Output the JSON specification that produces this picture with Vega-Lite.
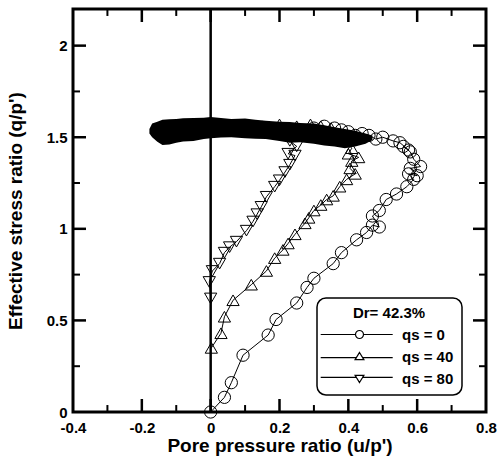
{
  "$schema": "https://vega.github.io/schema/vega-lite/v6.json",
  "width": 413,
  "height": 403,
  "autosize": {"type": "none"},
  "padding": {"left": 73, "top": 9, "right": 13, "bottom": 51},
  "background": "white",
  "config": {
    "font": "Liberation Sans",
    "view": {"stroke": "black", "strokeWidth": 3},
    "axis": {
      "grid": false, "domain": false, "ticks": false, "labelColor": "black", "titleColor": "black",
      "labelFont": "Liberation Sans", "labelFontWeight": "bold", "labelFontSize": 15,
      "titleFont": "Liberation Sans", "titleFontWeight": "bold", "titleFontSize": 19
    },
    "legend": {"strokeWidth": 1.5}
  },
  "datasets": {
    "xmajor": [{"v": -0.2}, {"v": 0}, {"v": 0.2}, {"v": 0.4}, {"v": 0.6}],
    "xminor": [{"v": -0.3}, {"v": -0.1}, {"v": 0.1}, {"v": 0.3}, {"v": 0.5}, {"v": 0.7}],
    "ymajor": [{"v": 0.5}, {"v": 1}, {"v": 1.5}, {"v": 2}],
    "yminor": [{"v": 0.25}, {"v": 0.75}, {"v": 1.25}, {"v": 1.75}],
    "band": [
      {"u": -0.178, "top": 1.545, "bottom": 1.52},
      {"u": -0.17, "top": 1.575, "bottom": 1.5},
      {"u": -0.155, "top": 1.585, "bottom": 1.475},
      {"u": -0.14, "top": 1.595, "bottom": 1.458},
      {"u": -0.12, "top": 1.598, "bottom": 1.46},
      {"u": -0.1, "top": 1.6, "bottom": 1.47},
      {"u": -0.08, "top": 1.603, "bottom": 1.476},
      {"u": -0.05, "top": 1.605, "bottom": 1.48},
      {"u": -0.02, "top": 1.607, "bottom": 1.49},
      {"u": 0.0, "top": 1.61, "bottom": 1.495},
      {"u": 0.03, "top": 1.605, "bottom": 1.498},
      {"u": 0.06, "top": 1.6, "bottom": 1.5},
      {"u": 0.1, "top": 1.602, "bottom": 1.495},
      {"u": 0.13, "top": 1.595, "bottom": 1.492},
      {"u": 0.16, "top": 1.59, "bottom": 1.49},
      {"u": 0.2, "top": 1.585, "bottom": 1.48},
      {"u": 0.23, "top": 1.583, "bottom": 1.47},
      {"u": 0.26, "top": 1.578, "bottom": 1.472},
      {"u": 0.3, "top": 1.575, "bottom": 1.465},
      {"u": 0.33, "top": 1.565, "bottom": 1.455},
      {"u": 0.36, "top": 1.555, "bottom": 1.45},
      {"u": 0.39, "top": 1.545, "bottom": 1.44},
      {"u": 0.42, "top": 1.535, "bottom": 1.45},
      {"u": 0.45, "top": 1.52, "bottom": 1.465},
      {"u": 0.47, "top": 1.51, "bottom": 1.485}
    ],
    "zero": [{"u": 0}],
    "series": [
      {"series": "qs = 0", "i": 1, "u": 0.0, "q": 0.0},
      {"series": "qs = 0", "i": 2, "u": 0.04, "q": 0.08},
      {"series": "qs = 0", "i": 3, "u": 0.06, "q": 0.16},
      {"series": "qs = 0", "i": 4, "u": 0.094, "q": 0.31},
      {"series": "qs = 0", "i": 5, "u": 0.167, "q": 0.42},
      {"series": "qs = 0", "i": 6, "u": 0.19, "q": 0.505},
      {"series": "qs = 0", "i": 7, "u": 0.25, "q": 0.595},
      {"series": "qs = 0", "i": 8, "u": 0.28, "q": 0.68},
      {"series": "qs = 0", "i": 9, "u": 0.3, "q": 0.73},
      {"series": "qs = 0", "i": 10, "u": 0.356, "q": 0.81},
      {"series": "qs = 0", "i": 11, "u": 0.38, "q": 0.87},
      {"series": "qs = 0", "i": 12, "u": 0.424, "q": 0.94},
      {"series": "qs = 0", "i": 13, "u": 0.453, "q": 0.98},
      {"series": "qs = 0", "i": 14, "u": 0.47, "q": 1.02},
      {"series": "qs = 0", "i": 15, "u": 0.49, "q": 1.01},
      {"series": "qs = 0", "i": 16, "u": 0.47, "q": 1.07},
      {"series": "qs = 0", "i": 17, "u": 0.49, "q": 1.1},
      {"series": "qs = 0", "i": 18, "u": 0.51, "q": 1.16},
      {"series": "qs = 0", "i": 19, "u": 0.54, "q": 1.19},
      {"series": "qs = 0", "i": 20, "u": 0.57, "q": 1.23},
      {"series": "qs = 0", "i": 21, "u": 0.59, "q": 1.27},
      {"series": "qs = 0", "i": 22, "u": 0.575, "q": 1.3},
      {"series": "qs = 0", "i": 23, "u": 0.6, "q": 1.29},
      {"series": "qs = 0", "i": 24, "u": 0.58, "q": 1.33},
      {"series": "qs = 0", "i": 25, "u": 0.61, "q": 1.34},
      {"series": "qs = 0", "i": 26, "u": 0.59, "q": 1.38},
      {"series": "qs = 0", "i": 27, "u": 0.58, "q": 1.42},
      {"series": "qs = 0", "i": 28, "u": 0.56, "q": 1.45},
      {"series": "qs = 0", "i": 29, "u": 0.575, "q": 1.43},
      {"series": "qs = 0", "i": 30, "u": 0.55, "q": 1.47},
      {"series": "qs = 0", "i": 31, "u": 0.53, "q": 1.48},
      {"series": "qs = 0", "i": 32, "u": 0.5, "q": 1.5},
      {"series": "qs = 0", "i": 33, "u": 0.48, "q": 1.49},
      {"series": "qs = 0", "i": 34, "u": 0.46, "q": 1.51},
      {"series": "qs = 0", "i": 35, "u": 0.44, "q": 1.52},
      {"series": "qs = 0", "i": 36, "u": 0.42, "q": 1.51},
      {"series": "qs = 0", "i": 37, "u": 0.4, "q": 1.53},
      {"series": "qs = 0", "i": 38, "u": 0.38, "q": 1.54},
      {"series": "qs = 0", "i": 39, "u": 0.36, "q": 1.55},
      {"series": "qs = 0", "i": 40, "u": 0.33, "q": 1.56},
      {"series": "qs = 0", "i": 41, "u": 0.3, "q": 1.55},
      {"series": "qs = 40", "i": 1, "u": 0.002, "q": 0.35},
      {"series": "qs = 40", "i": 2, "u": 0.03, "q": 0.43},
      {"series": "qs = 40", "i": 3, "u": 0.04, "q": 0.52},
      {"series": "qs = 40", "i": 4, "u": 0.065, "q": 0.61},
      {"series": "qs = 40", "i": 5, "u": 0.118, "q": 0.695},
      {"series": "qs = 40", "i": 6, "u": 0.162, "q": 0.77},
      {"series": "qs = 40", "i": 7, "u": 0.186, "q": 0.84},
      {"series": "qs = 40", "i": 8, "u": 0.21, "q": 0.885},
      {"series": "qs = 40", "i": 9, "u": 0.225, "q": 0.92},
      {"series": "qs = 40", "i": 10, "u": 0.245, "q": 0.97},
      {"series": "qs = 40", "i": 11, "u": 0.274, "q": 1.03},
      {"series": "qs = 40", "i": 12, "u": 0.285, "q": 1.06},
      {"series": "qs = 40", "i": 13, "u": 0.3, "q": 1.1},
      {"series": "qs = 40", "i": 14, "u": 0.32, "q": 1.13},
      {"series": "qs = 40", "i": 15, "u": 0.337, "q": 1.16},
      {"series": "qs = 40", "i": 16, "u": 0.356, "q": 1.18},
      {"series": "qs = 40", "i": 17, "u": 0.375, "q": 1.23},
      {"series": "qs = 40", "i": 18, "u": 0.395, "q": 1.27},
      {"series": "qs = 40", "i": 19, "u": 0.42, "q": 1.3},
      {"series": "qs = 40", "i": 20, "u": 0.405, "q": 1.33},
      {"series": "qs = 40", "i": 21, "u": 0.41, "q": 1.37},
      {"series": "qs = 40", "i": 22, "u": 0.43, "q": 1.39},
      {"series": "qs = 40", "i": 23, "u": 0.4, "q": 1.41},
      {"series": "qs = 40", "i": 24, "u": 0.41, "q": 1.44},
      {"series": "qs = 40", "i": 25, "u": 0.39, "q": 1.48},
      {"series": "qs = 40", "i": 26, "u": 0.37, "q": 1.52},
      {"series": "qs = 40", "i": 27, "u": 0.35, "q": 1.55},
      {"series": "qs = 40", "i": 28, "u": 0.32, "q": 1.56},
      {"series": "qs = 40", "i": 29, "u": 0.29, "q": 1.57},
      {"series": "qs = 40", "i": 30, "u": 0.25, "q": 1.56},
      {"series": "qs = 40", "i": 31, "u": 0.2, "q": 1.57},
      {"series": "qs = 40", "i": 32, "u": 0.15, "q": 1.56},
      {"series": "qs = 80", "i": 1, "u": 0.0, "q": 0.62},
      {"series": "qs = 80", "i": 2, "u": -0.004, "q": 0.71},
      {"series": "qs = 80", "i": 3, "u": 0.005, "q": 0.77},
      {"series": "qs = 80", "i": 4, "u": 0.026, "q": 0.81},
      {"series": "qs = 80", "i": 5, "u": 0.04, "q": 0.87},
      {"series": "qs = 80", "i": 6, "u": 0.055, "q": 0.9},
      {"series": "qs = 80", "i": 7, "u": 0.075, "q": 0.93},
      {"series": "qs = 80", "i": 8, "u": 0.104, "q": 0.99},
      {"series": "qs = 80", "i": 9, "u": 0.123, "q": 1.04},
      {"series": "qs = 80", "i": 10, "u": 0.135, "q": 1.08},
      {"series": "qs = 80", "i": 11, "u": 0.147, "q": 1.12},
      {"series": "qs = 80", "i": 12, "u": 0.162, "q": 1.175},
      {"series": "qs = 80", "i": 13, "u": 0.186, "q": 1.23},
      {"series": "qs = 80", "i": 14, "u": 0.2, "q": 1.265},
      {"series": "qs = 80", "i": 15, "u": 0.216, "q": 1.31},
      {"series": "qs = 80", "i": 16, "u": 0.23, "q": 1.35},
      {"series": "qs = 80", "i": 17, "u": 0.245, "q": 1.4},
      {"series": "qs = 80", "i": 18, "u": 0.225, "q": 1.41},
      {"series": "qs = 80", "i": 19, "u": 0.25, "q": 1.45},
      {"series": "qs = 80", "i": 20, "u": 0.23, "q": 1.48},
      {"series": "qs = 80", "i": 21, "u": 0.2, "q": 1.51},
      {"series": "qs = 80", "i": 22, "u": 0.15, "q": 1.54},
      {"series": "qs = 80", "i": 23, "u": 0.1, "q": 1.55},
      {"series": "qs = 80", "i": 24, "u": 0.05, "q": 1.55},
      {"series": "qs = 80", "i": 25, "u": 0.0, "q": 1.56},
      {"series": "qs = 80", "i": 26, "u": -0.05, "q": 1.55},
      {"series": "qs = 80", "i": 27, "u": -0.1, "q": 1.54}
    ]
  },
  "layer": [
    {
      "data": {"name": "band"},
      "mark": {"type": "area", "color": "black", "opacity": 1},
      "encoding": {
        "x": {"field": "u", "type": "quantitative",
          "scale": {"domain": [-0.4, 0.8], "nice": false, "zero": false},
          "axis": {"orient": "bottom", "values": [-0.4, -0.2, 0, 0.2, 0.4, 0.6, 0.8],
            "labelPadding": 8, "labelFlush": false, "format": "~g", "labelExpr": "replace(datum.label, '−', '-')",
            "title": "Pore pressure ratio (u/p')", "titlePadding": 1}},
        "y": {"field": "top", "type": "quantitative",
          "scale": {"domain": [0, 2.2], "nice": false, "zero": false},
          "axis": {"orient": "left", "values": [0, 0.5, 1, 1.5, 2],
            "labelPadding": 6, "labelFlush": false, "format": "~g",
            "title": "Effective stress ratio (q/p')", "titlePadding": 21}},
        "y2": {"field": "bottom"}
      }
    },
    {
      "data": {"name": "xmajor"},
      "mark": {"type": "rule", "color": "black", "strokeWidth": 2.5},
      "encoding": {
        "x": {"field": "v", "type": "quantitative", "axis": null},
        "y": {"datum": 0, "type": "quantitative", "axis": null},
        "y2": {"datum": 0.071}
      }
    },
    {
      "data": {"name": "xmajor"},
      "mark": {"type": "rule", "color": "black", "strokeWidth": 2.5},
      "encoding": {
        "x": {"field": "v", "type": "quantitative", "axis": null},
        "y": {"datum": 2.129, "type": "quantitative", "axis": null},
        "y2": {"datum": 2.2}
      }
    },
    {
      "data": {"name": "xminor"},
      "mark": {"type": "rule", "color": "black", "strokeWidth": 2},
      "encoding": {
        "x": {"field": "v", "type": "quantitative", "axis": null},
        "y": {"datum": 0, "type": "quantitative", "axis": null},
        "y2": {"datum": 0.038}
      }
    },
    {
      "data": {"name": "xminor"},
      "mark": {"type": "rule", "color": "black", "strokeWidth": 2},
      "encoding": {
        "x": {"field": "v", "type": "quantitative", "axis": null},
        "y": {"datum": 2.162, "type": "quantitative", "axis": null},
        "y2": {"datum": 2.2}
      }
    },
    {
      "data": {"name": "ymajor"},
      "mark": {"type": "rule", "color": "black", "strokeWidth": 2.5},
      "encoding": {
        "y": {"field": "v", "type": "quantitative", "axis": null},
        "x": {"datum": -0.4, "type": "quantitative", "axis": null},
        "x2": {"datum": -0.3622}
      }
    },
    {
      "data": {"name": "ymajor"},
      "mark": {"type": "rule", "color": "black", "strokeWidth": 2.5},
      "encoding": {
        "y": {"field": "v", "type": "quantitative", "axis": null},
        "x": {"datum": 0.7622, "type": "quantitative", "axis": null},
        "x2": {"datum": 0.8}
      }
    },
    {
      "data": {"name": "yminor"},
      "mark": {"type": "rule", "color": "black", "strokeWidth": 2},
      "encoding": {
        "y": {"field": "v", "type": "quantitative", "axis": null},
        "x": {"datum": -0.4, "type": "quantitative", "axis": null},
        "x2": {"datum": -0.3797}
      }
    },
    {
      "data": {"name": "yminor"},
      "mark": {"type": "rule", "color": "black", "strokeWidth": 2},
      "encoding": {
        "y": {"field": "v", "type": "quantitative", "axis": null},
        "x": {"datum": 0.7797, "type": "quantitative", "axis": null},
        "x2": {"datum": 0.8}
      }
    },
    {
      "data": {"name": "zero"},
      "mark": {"type": "rule", "color": "black", "strokeWidth": 2.5},
      "encoding": {
        "x": {"field": "u", "type": "quantitative", "axis": null}
      }
    },
    {
      "data": {"name": "series"},
      "mark": {"type": "line", "color": "black", "strokeWidth": 1},
      "encoding": {
        "x": {"field": "u", "type": "quantitative", "axis": null},
        "y": {"field": "q", "type": "quantitative", "axis": null},
        "detail": {"field": "series"},
        "order": {"field": "i", "type": "quantitative"}
      }
    },
    {
      "data": {"name": "series"},
      "mark": {"type": "point", "filled": false, "stroke": "black", "strokeWidth": 1, "size": 150, "opacity": 1},
      "encoding": {
        "x": {"field": "u", "type": "quantitative", "axis": null},
        "y": {"field": "q", "type": "quantitative", "axis": null},
        "shape": {"field": "series", "type": "nominal",
          "scale": {"domain": ["qs = 0", "qs = 40", "qs = 80"], "range": ["circle", "triangle-up", "triangle-down"]},
          "legend": null}
      }
    },
    {
      "data": {"name": "series"},
      "transform": [{"filter": "datum.i < 0"}],
      "mark": {"type": "point", "filled": false, "stroke": "black", "strokeWidth": 1.2, "size": 64, "opacity": 1},
      "encoding": {
        "x": {"field": "u", "type": "quantitative", "axis": null},
        "y": {"field": "q", "type": "quantitative", "axis": null},
        "shape": {"field": "series", "type": "nominal",
          "scale": {"domain": ["qs = 0", "qs = 40", "qs = 80"],
            "range": ["M-9.7,0L-1,0M1,0L8.3,0M1,0A1,1,0,1,1,-1,0A1,1,0,1,1,1,0Z",
                      "M-9.7,0.3L-0.6,0.3M0.6,0.3L8.3,0.3M0,-1L1.1,0.8L-1.1,0.8Z",
                      "M-9.7,-0.3L-0.6,-0.3M0.6,-0.3L8.3,-0.3M0,1L1.1,-0.8L-1.1,-0.8Z"]},
          "legend": {
            "title": "Dr= 42.3%", "orient": "none", "legendX": 244, "legendY": 289,
            "strokeColor": "black", "cornerRadius": 9, "fillColor": "white",
            "padding": 8, "titleFont": "Liberation Sans", "titleFontSize": 15, "titleFontWeight": "bold", "titleColor": "black",
            "titleAnchor": "middle", "titleAlign": "center", "titlePadding": 6,
            "labelFont": "Liberation Sans", "labelFontSize": 15, "labelFontWeight": "bold", "labelColor": "black",
            "symbolSize": 64, "symbolStrokeColor": "black", "symbolStrokeWidth": 1.2,
            "symbolOffset": 27, "labelOffset": 35, "rowPadding": 6
          }}
      }
    }
  ],
  "resolve": {"axis": {"x": "independent", "y": "independent"}, "scale": {"shape": "independent"}, "legend": {"shape": "independent"}}
}
